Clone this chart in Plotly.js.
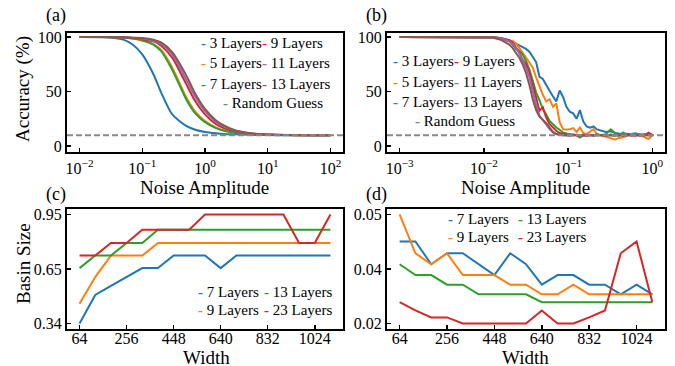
<!DOCTYPE html>
<html><head><meta charset="utf-8">
<script src="https://cdn.plot.ly/plotly-3.0.1.min.js"></script>
<style>html,body{margin:0;padding:0;background:#fff;}#chart{width:675px;height:366px;}</style>
</head><body><div id="chart"></div>
<script>
// ---------------- DATA ----------------
// Panel (a): accuracy (%) vs noise amplitude
const noiseA = [0.01,0.02,0.03,0.05,0.07,0.1,0.15,0.2,0.3,0.5,0.7,1,1.5,2,3,5,7,10,20,50,100];
const accA_3  = [100,99.8,99.5,97.5,93,84,66,49,29,18.5,15,13,11.8,11.2,10.8,10.4,10.2,10.1,10,10,10];
const accA_5  = [100,100,99.8,99.4,98.5,96.5,93.5,88,72,45,31.5,23,17,14.5,12.5,11.2,10.7,10.4,10.1,10,10];
const accA_7  = [100,100,99.8,99.4,98.5,97,93,87,70,43,30,22,16.5,14,12.2,11,10.6,10.3,10.1,10,10];
const accA_9  = [100,100,99.9,99.6,99,98,96,92,81,57,41,29,20,16.5,13.5,11.5,10.8,10.5,10.1,10,10];
const accA_11 = [100,100,99.9,99.7,99.2,98.5,96.5,93.5,84,61,45,32,22,18,14,11.8,11,10.6,10.2,10,10];
const accA_13 = [100,100,99.9,99.7,99.3,99,97.5,95,86,65,48,34,23.5,19,14.5,12,11.2,10.7,10.2,10,10];

// Panel (b): accuracy (%) vs noise amplitude
const noiseB = [0.001,0.002,0.004,0.007,0.01,0.0126,0.0158,0.02,0.0219,0.024,0.0263,0.0288,0.0316,0.0347,0.038,0.0417,0.0457,0.0501,0.055,0.0603,0.0661,0.0724,0.0794,0.0871,0.0955,0.1047,0.1148,0.1259,0.138,0.1514,0.166,0.182,0.2,0.22,0.25,0.28,0.32,0.36,0.4,0.45,0.5,0.56,0.63,0.71,0.8,0.9,1.0];
const accB_3  = [100,100,100,100,99.7,99.4,98.8,97,95.5,94,92.5,91,89,86.5,82,77,63.5,61.5,56,50,45.5,41,51,45,36,31.5,30,25,33,22.5,18,16.8,18,15.3,13.8,13,13.5,12,11.5,11.4,10.8,11,11.7,10.5,10.8,10.2,10.5];
const accB_5  = [100,100,100,100,100,99.6,98.8,96,96.5,94,90,85.5,81,77,72,63,55,47,41,43,36,39,22,15.5,15.3,15.5,16.5,13,17,12,11,13,15.5,11,9.6,8.5,7,6,7.5,8.1,9.5,11,10.5,9.8,8.5,6.5,10];
const accB_7  = [100,100,100,100,100,99.6,99,96,93,89,87,84,78,70,60,49,42,34,29,23,20,17,15,12.5,11.5,10.8,10.5,9.9,7.8,9.9,9.5,10.2,9.8,10.8,10,11,15.3,12,9.3,12.4,10,10.5,11,9.5,10.5,11.5,10];
const accB_9  = [100,100,100,100,100,99.7,99,97,95,91,86,79,75,68,57,46,32.5,35.5,26,20,17,14,12,11,10,9.5,10.5,9.8,9.2,10.5,9.5,10.3,9.8,10.5,10,9.5,10.5,9.8,10.3,9.5,10.5,10,9.6,10.8,9.5,12.3,10];
const accB_11 = [100,100,100,100,100,99.7,98.8,96,93.5,90,85,78,72,63,50,38,28,24,19,15.5,12.5,11,10.3,10,9.6,10.2,9.8,10.4,9.7,10,10.5,9.6,10.2,9.8,10.3,9.7,10.1,9.6,10.4,9.9,10.2,9.7,10.3,9.8,10.4,9.9,10.2];
const accB_13 = [100,100,100,100,100,99.4,97.5,93,90,86,81,75,67,56,43,33,27,24,21,17,13,11,10.2,10,10.3,9.8,10.1,9.9,10.2,9.7,10,10.3,9.8,10.1,9.9,10.2,9.8,10,10.3,9.9,10.1,9.8,10.2,10,9.9,10.1,10];

const randomGuess = 10;
const layerNamesAB = ['3 Layers','5 Layers','7 Layers','9 Layers','11 Layers','13 Layers'];

// Panels (c), (d): basin size vs width
const widths = [64,128,192,256,320,384,448,512,576,640,704,768,832,896,960,1024,1088];
const basinC_7  = [0.34,0.50,0.55,0.60,0.65,0.65,0.72,0.72,0.72,0.65,0.72,0.72,0.72,0.72,0.72,0.72,0.72];
const basinC_9  = [0.45,0.60,0.72,0.72,0.72,0.79,0.79,0.79,0.79,0.79,0.79,0.79,0.79,0.79,0.79,0.79,0.79];
const basinC_13 = [0.65,0.72,0.72,0.79,0.79,0.865,0.865,0.865,0.865,0.865,0.865,0.865,0.865,0.865,0.865,0.865,0.865];
const basinC_23 = [0.72,0.72,0.79,0.79,0.865,0.865,0.865,0.865,0.95,0.95,0.95,0.95,0.95,0.95,0.79,0.79,0.95];
const basinD_7  = [0.0438,0.0438,0.0386,0.0411,0.0411,0.0386,0.0361,0.0411,0.0386,0.0339,0.0361,0.0361,0.0339,0.0339,0.0317,0.0339,0.0317];
const basinD_9  = [0.0500,0.0411,0.0386,0.0411,0.0361,0.0361,0.0361,0.0339,0.0339,0.0317,0.0317,0.0339,0.0317,0.0317,0.0317,0.0317,0.0317];
const basinD_13 = [0.0386,0.0361,0.0361,0.0339,0.0339,0.0317,0.0317,0.0317,0.0317,0.0299,0.0299,0.0299,0.0299,0.0299,0.0299,0.0299,0.0299];
const basinD_23 = [0.0299,0.0280,0.0264,0.0264,0.0250,0.0250,0.0250,0.0250,0.0250,0.0280,0.0250,0.0250,0.0264,0.0280,0.0411,0.0438,0.0299];
const layerNamesCD = ['7 Layers','9 Layers','13 Layers','23 Layers'];

// Tick labels
const noiseTicksA = [0.01,0.1,1,10,100];
const noiseTickTextA = ['10<sup>−2</sup>','10<sup>−1</sup>','10<sup>0</sup>','10<sup>1</sup>','10<sup>2</sup>'];
const noiseTicksB = [0.001,0.01,0.1,1];
const noiseTickTextB = ['10<sup>−3</sup>','10<sup>−2</sup>','10<sup>−1</sup>','10<sup>0</sup>'];
const accTicks = [0,50,100];
const widthTicks = [64,256,448,640,832,1024];
const basinTicksC = [0.34,0.645,0.95];
const basinTickTextC = ['0.34','0.65','0.95'];
const basinTicksD = [0.025,0.0375,0.05];
const basinTickTextD = ['0.02','0.04','0.05'];

// ---------------- STYLE ----------------
const colorsAB = ['#1f77b4','#ff7f0e','#2ca02c','#d62728','#9467bd','#8c564b'];
const colorsCD = ['#1f77b4','#ff7f0e','#2ca02c','#d62728'];
const FONT = 'Liberation Serif, Tinos, Times New Roman, Times, DejaVu Serif, Noto Serif, serif';
const PX = x => x/675, PY = y => 1 - y/366;

const traces = [];
[accA_3,accA_5,accA_7,accA_9,accA_11,accA_13].forEach((ys,i)=>traces.push({
  x: noiseA, y: ys, xaxis:'x', yaxis:'y', mode:'lines', name: layerNamesAB[i], showlegend:false,
  line:{color:colorsAB[i], width:2, shape:'spline', smoothing:0.7}}));
[accB_3,accB_5,accB_7,accB_9,accB_11,accB_13].forEach((ys,i)=>traces.push({
  x: noiseB, y: ys, xaxis:'x2', yaxis:'y2', mode:'lines', name: layerNamesAB[i], showlegend:false,
  line:{color:colorsAB[i], width:2}}));
[basinC_7,basinC_9,basinC_13,basinC_23].forEach((ys,i)=>traces.push({
  x: widths, y: ys, xaxis:'x3', yaxis:'y3', mode:'lines', name: layerNamesCD[i], showlegend:false,
  line:{color:colorsCD[i], width:2}}));
[basinD_7,basinD_9,basinD_13,basinD_23].forEach((ys,i)=>traces.push({
  x: widths, y: ys, xaxis:'x4', yaxis:'y4', mode:'lines', name: layerNamesCD[i], showlegend:false,
  line:{color:colorsCD[i], width:2}}));

function ax(extra){
  return Object.assign({showline:true, mirror:true, linecolor:'#000', linewidth:2,
    ticks:'inside', ticklen:4, tickwidth:1.5, tickcolor:'#000', showgrid:false, zeroline:false,
    tickfont:{family:FONT, size:16, color:'#000'}}, extra);
}
const tf = {family:FONT, size:19, color:'#000'};

const ann = [];
// legend built from annotations
function entry(x, y, color, label){
  ann.push({xref:'paper', yref:'paper', x:PX(x), y:PY(y), xanchor:'left', yanchor:'middle', showarrow:false,
    text:'<span style="color:'+color+'"><b>-</b></span> '+label,
    font:{family:FONT, size:15, color:'#000'}});
}
// (a)
[[199,43],[199,63],[199,84],[260,43],[260,63],[260,84]].forEach((p,i)=>entry(p[0],p[1],colorsAB[i],layerNamesAB[i]));
entry(221,103,'#7f7f7f','Random Guess');
// (b)
[[391,61],[391,82],[391,102],[452,61],[452,82],[452,102]].forEach((p,i)=>entry(p[0],p[1],colorsAB[i],layerNamesAB[i]));
entry(413,121,'#7f7f7f','Random Guess');
// (c)
[[196,292],[196,310],[262,292],[262,310]].forEach((p,i)=>entry(p[0],p[1],colorsCD[i],layerNamesCD[i]));
// (d)
[[446,219],[446,237],[516,219],[516,237]].forEach((p,i)=>entry(p[0],p[1],colorsCD[i],layerNamesCD[i]));
// panel labels
[['(a)',56,15],['(b)',376,15],['(c)',56,194],['(d)',376,194]].forEach(p=>ann.push({
  xref:'paper', yref:'paper', x:PX(p[1]), y:PY(p[2]), xanchor:'center', yanchor:'middle', showarrow:false,
  text:p[0], font:{family:FONT, size:18, color:'#000'}}));
// axis titles
[['Noise Amplitude',204,187,0],['Noise Amplitude',525,187,0],['Width',206,357,0],['Width',525,357,0],
 ['Accuracy (%)',23,89,-90],['Basin Size',23,264,-90]].forEach(p=>ann.push({
  xref:'paper', yref:'paper', x:PX(p[1]), y:PY(p[2]), xanchor:'center', yanchor:'middle', showarrow:false,
  text:p[0], textangle:p[3], font:tf}));

const layout = {
  width:675, height:366, margin:{l:0,r:0,t:0,b:0}, paper_bgcolor:'#fff', plot_bgcolor:'#fff',
  showlegend:false, font:{family:FONT, size:15, color:'#000'},
  xaxis: ax({domain:[PX(67),PX(343)], anchor:'y', type:'log', range:[-2.2,2.2], tickvals:noiseTicksA, ticktext:noiseTickTextA, ticklabelstandoff:1}),
  yaxis: ax({domain:[PY(152),PY(33)], anchor:'x', range:[-5.4,103.6], tickvals:accTicks}),
  xaxis2: ax({domain:[PX(387),PX(665)], anchor:'y2', type:'log', range:[-3.15,0.15], tickvals:noiseTicksB, ticktext:noiseTickTextB, ticklabelstandoff:1}),
  yaxis2: ax({domain:[PY(152),PY(33)], anchor:'x2', range:[-5.4,103.6], tickvals:accTicks}),
  xaxis3: ax({domain:[PX(67),PX(343)], anchor:'y3', range:[12.8,1139.2], tickvals:widthTicks, ticklabelstandoff:-6}),
  yaxis3: ax({domain:[PY(329),PY(209)], anchor:'x3', range:[0.3095,0.9805], tickvals:basinTicksC, ticktext:basinTickTextC}),
  xaxis4: ax({domain:[PX(387),PX(665)], anchor:'y4', range:[12.8,1139.2], tickvals:widthTicks, ticklabelstandoff:-6}),
  yaxis4: ax({domain:[PY(329),PY(209)], anchor:'x4', range:[0.02375,0.05125], tickvals:basinTicksD, ticktext:basinTickTextD}),
  shapes: [
    {type:'line', xref:'x domain', x0:0, x1:1, yref:'y', y0:randomGuess, y1:randomGuess, line:{color:'#888', width:2, dash:'6px,3px'}},
    {type:'line', xref:'x2 domain', x0:0, x1:1, yref:'y2', y0:randomGuess, y1:randomGuess, line:{color:'#888', width:2, dash:'6px,3px'}}
  ],
  annotations: ann
};
Plotly.newPlot('chart', traces, layout, {displayModeBar:false, staticPlot:true});
</script></body></html>
